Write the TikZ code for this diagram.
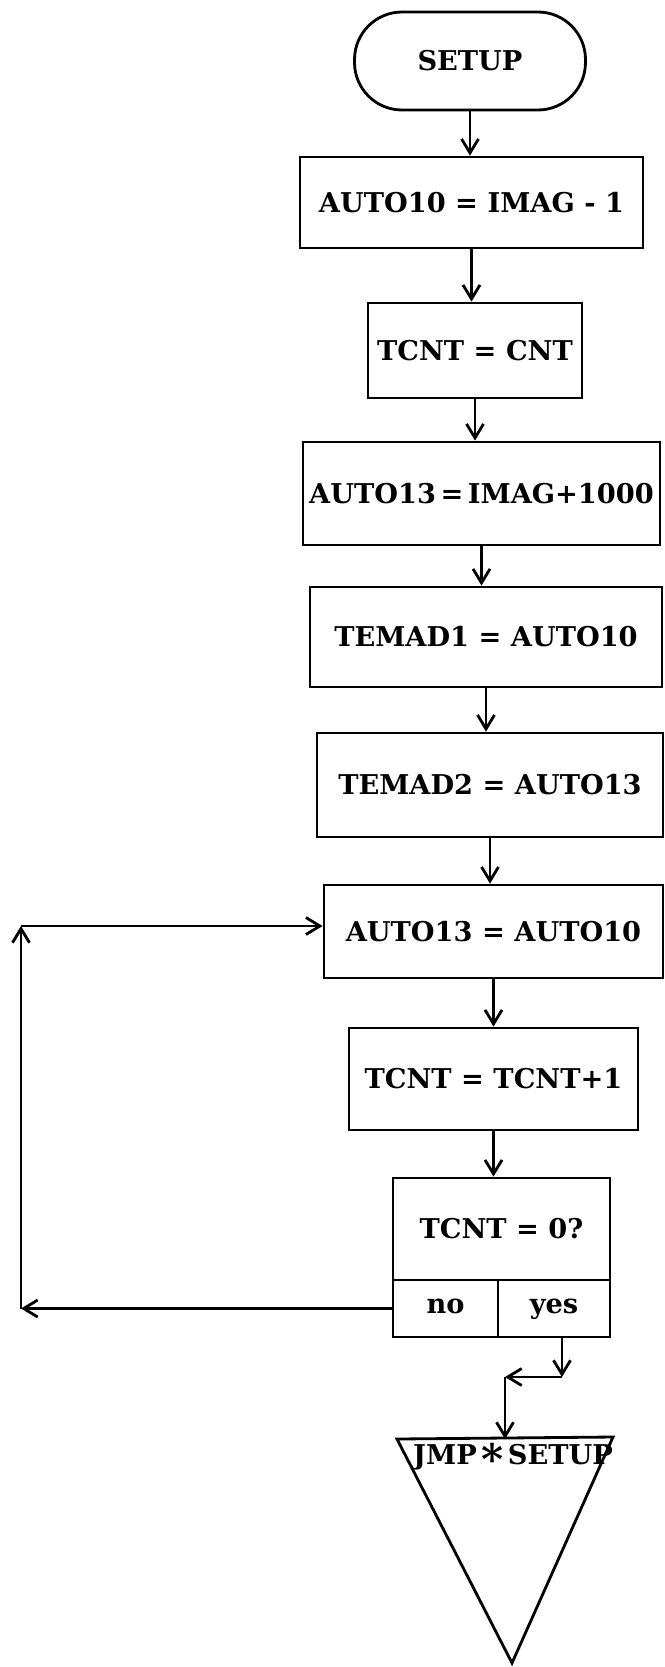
\documentclass[tikz,border=0pt]{standalone}
\usepackage{fontspec}
\setmainfont{DejaVu Serif}
\usetikzlibrary{arrows.meta}

\begin{document}
\begin{tikzpicture}[
        x=0.02cm, y=-0.02cm,
        step_box/.style={draw, line width=1.6pt, inner sep=0pt, font=\fontsize{15.5}{18}\selectfont\bfseries},
        term_box/.style={step_box, rounded corners=0.95cm},
        exit_label/.style={step_box, text height=1.6ex, text depth=0.4ex},
        flow/.style={->, line width=1.6pt},
        >={Straight Barb[length=2.8mm, width=3.4mm]}
    ]
        \useasboundingbox (0,0) rectangle (664,1667);

        % Steps
        \node[term_box, minimum width=4.62cm, minimum height=1.96cm] (setup) at (470,61) {SETUP};
        \node[step_box, minimum width=6.86cm, minimum height=1.82cm] (auto10) at (471.5,202.5) {AUTO10 = IMAG - 1};
        \node[step_box, minimum width=4.28cm, minimum height=1.90cm] (tcnt) at (475,350.5) {TCNT = CNT};
        \node[step_box, minimum width=7.14cm, minimum height=2.06cm] (auto13) at (481.5,493.5) {AUTO13\,=\,IMAG+1000};
        \node[step_box, minimum width=7.04cm, minimum height=2.00cm] (temad1) at (486,637) {TEMAD1 = AUTO10};
        \node[step_box, minimum width=6.92cm, minimum height=2.08cm] (temad2) at (490,785) {TEMAD2 = AUTO13};
        \node[step_box, minimum width=6.78cm, minimum height=1.86cm] (copy) at (493.5,931.5) {AUTO13 = AUTO10};
        \node[step_box, minimum width=5.78cm, minimum height=2.04cm] (incr) at (493.5,1079) {TCNT = TCNT+1};

        % Test with its two exits
        \node[step_box, minimum width=4.34cm, minimum height=2.04cm] (test) at (501.5,1229) {TCNT = 0?};
        \node[exit_label, minimum width=2.10cm, minimum height=1.14cm] (no) at (445.5,1308.5) {no};
        \node[exit_label, minimum width=2.24cm, minimum height=1.14cm] (yes) at (554,1308.5) {yes};

        % Exit
        \coordinate (triL) at (397,1439);
        \coordinate (triR) at (613,1437);
        \coordinate (triB) at (512,1663);
        \draw[line width=1.6pt] (triL) -- (triR) -- (triB) -- cycle;
        \node[font=\fontsize{15.5}{18}\selectfont\bfseries, inner sep=0pt] (jmp) at (513,1459) {JMP\,{\fontsize{24}{24}\selectfont\raisebox{-0.45ex}{*}}\,SETUP};

        % Flow down the chart
        \draw[flow] (setup.south) -- (setup.south |- auto10.north);
        \draw[flow] (auto10.south) -- (auto10.south |- tcnt.north);
        \draw[flow] (tcnt.south) -- (tcnt.south |- auto13.north);
        \draw[flow] (auto13.south) -- (auto13.south |- temad1.north);
        \draw[flow] (temad1.south) -- (temad1.south |- temad2.north);
        \draw[flow] (temad2.south) -- (temad2.south |- copy.north);
        \draw[flow] (copy.south) -- (copy.south |- incr.north);
        \draw[flow] (incr.south) -- (incr.south |- test.north);

        % no: back to the copy step
        \coordinate (looptop) at (21,926);
        \draw[flow] (no.west) -- (no.west -| looptop);
        \draw[flow] (no.west -| looptop) -- (looptop);
        \draw[flow] (looptop) -- (looptop -| copy.west);

        % yes: on to the jump
        \coordinate (yesturn) at (562,1377);
        \coordinate (jmpturn) at (505,1377);
        \draw[flow] (yes.south -| yesturn) -- (yesturn);
        \draw[flow] (yesturn) -- (jmpturn);
        \draw[flow] (jmpturn) -- (jmpturn |- triL);
    \end{tikzpicture}
\end{document}
